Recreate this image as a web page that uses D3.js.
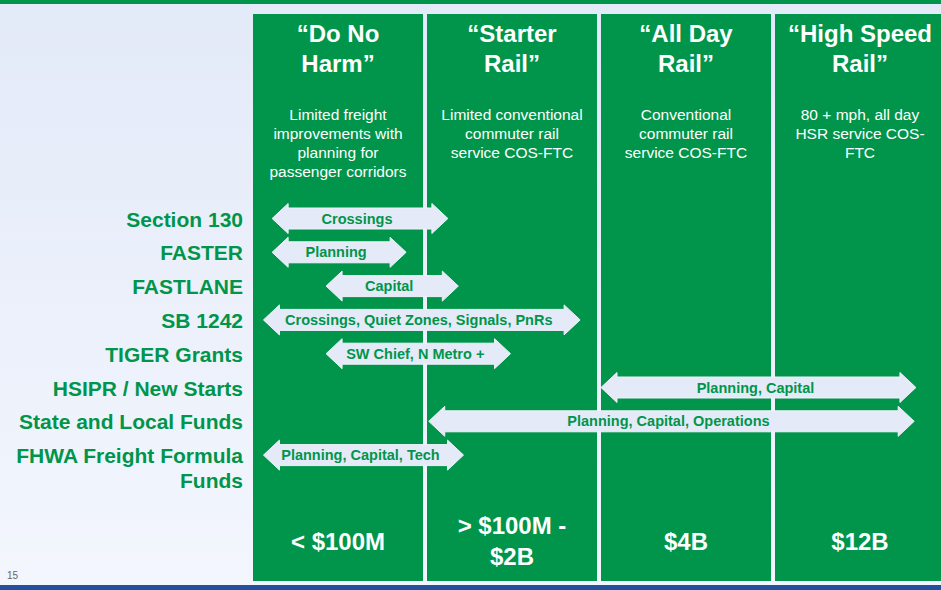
<!DOCTYPE html>
<html>
<head>
<meta charset="utf-8">
<script src="https://cdn.jsdelivr.net/npm/d3@7"></script>
<style>
  html, body { margin: 0; padding: 0; background: #fff; }
  svg { display: block; font-family: "Liberation Sans", Arial, Helvetica, sans-serif; }
</style>
</head>
<body>
<svg id="chart" width="941" height="590"></svg>
<script>
// ---------- DATA ----------
const phaseTitles = [
  ["\u201CDo No", "Harm\u201D"],
  ["\u201CStarter", "Rail\u201D"],
  ["\u201CAll Day", "Rail\u201D"],
  ["\u201CHigh Speed", "Rail\u201D"]
];
const phaseDescriptions = [
  ["Limited freight", "improvements with", "planning for", "passenger corridors"],
  ["Limited conventional", "commuter rail", "service COS-FTC"],
  ["Conventional", "commuter rail", "service COS-FTC"],
  ["80 + mph, all day", "HSR service COS-", "FTC"]
];
const phaseCosts = [
  ["< $100M"],
  ["> $100M -", "$2B"],
  ["$4B"],
  ["$12B"]
];
const programs = [
  ["Section 130"],
  ["FASTER"],
  ["FASTLANE"],
  ["SB 1242"],
  ["TIGER Grants"],
  ["HSIPR / New Starts"],
  ["State and Local Funds"],
  ["FHWA Freight Formula", "Funds"]
];
const arrowLabels = [
  "Crossings",
  "Planning",
  "Capital",
  "Crossings, Quiet Zones, Signals, PnRs",
  "SW Chief, N Metro +",
  "Planning, Capital",
  "Planning, Capital, Operations",
  "Planning, Capital, Tech"
];
// start / end of each funding arrow, in phase units (0 = start of "Do No Harm", 1 = start of "Starter Rail", ...)
const arrowStart = [0.11, 0.11, 0.42, 0.06, 0.42, 2.00, 1.01, 0.06];
const arrowEnd   = [1.12, 0.88, 1.18, 1.88, 1.48, 3.81, 3.80, 1.21];
const pageNumber = "15";

// ---------- LAYOUT ----------
const W = 941, H = 590;
const GREEN = "#00954a";
const ARROW_FILL = "#e4eaf7";
const svg = d3.select("#chart");

const defs = svg.append("defs");
const grad = defs.append("linearGradient").attr("id", "bg").attr("x1", 0).attr("y1", 0).attr("x2", 0).attr("y2", 1);
grad.append("stop").attr("offset", "0%").attr("stop-color", "#e3eaf8");
grad.append("stop").attr("offset", "100%").attr("stop-color", "#f3f6fd");

svg.append("rect").attr("width", W).attr("height", H).attr("fill", "url(#bg)");
svg.append("rect").attr("width", W).attr("height", 4).attr("fill", GREEN);
svg.append("rect").attr("y", 585).attr("width", W).attr("height", 5).attr("fill", "#24509e");

// x scale in phase units
const x = d3.scaleLinear().domain([0, 4]).range([253, 949]);
const colGap = 4;
const colTop = 14, colBottom = 581;

// row scale
const y = d3.scaleLinear().domain([0, programs.length - 1]).range([218.5, 218.5 + 33.8 * (programs.length - 1)]);

// columns
const cols = svg.append("g").selectAll("g").data(phaseTitles).join("g");
cols.append("rect")
  .attr("x", (d, i) => x(i))
  .attr("y", colTop)
  .attr("width", (d, i) => x(i + 1) - x(i) - colGap)
  .attr("height", colBottom - colTop)
  .attr("fill", GREEN);

const cx = i => (x(i) + x(i + 1) - colGap) / 2;

// titles
cols.each(function (lines, i) {
  const g = d3.select(this);
  g.selectAll("text.title").data(lines).join("text")
    .attr("class", "title")
    .attr("x", cx(i))
    .attr("y", (d, j) => 42 + j * 29.5)
    .attr("text-anchor", "middle")
    .attr("fill", "#fff")
    .attr("font-weight", "bold")
    .attr("font-size", 24)
    .text(d => d);
  g.selectAll("text.desc").data(phaseDescriptions[i]).join("text")
    .attr("class", "desc")
    .attr("x", cx(i))
    .attr("y", (d, j) => 120 + j * 19)
    .attr("text-anchor", "middle")
    .attr("fill", "#fff")
    .attr("font-size", 15.5)
    .text(d => d);
  const costs = phaseCosts[i];
  const lh = 31;
  const base0 = 549.5 - (costs.length - 1) * lh / 2;
  g.selectAll("text.cost").data(costs).join("text")
    .attr("class", "cost")
    .attr("x", cx(i))
    .attr("y", (d, j) => base0 + j * lh)
    .attr("text-anchor", "middle")
    .attr("fill", "#fff")
    .attr("font-weight", "bold")
    .attr("font-size", 24)
    .text(d => d);
});

// row labels
const labels = svg.append("g").selectAll("text").data(programs).join("text")
  .attr("x", 243)
  .attr("y", (d, i) => y(i) + 8)
  .attr("text-anchor", "end")
  .attr("fill", GREEN)
  .attr("font-weight", "bold")
  .attr("font-size", 21);
labels.selectAll("tspan").data(d => d).join("tspan")
  .attr("x", 243)
  .attr("dy", (d, j) => j === 0 ? 0 : 25)
  .text(d => d);

// arrows
function arrowPath(x0, x1, cy) {
  const h = 16, HH = 15, S = 10.5;
  return `M${x0},${cy} L${x0 + h},${cy - HH} L${x0 + h},${cy - S} L${x1 - h},${cy - S} L${x1 - h},${cy - HH} L${x1},${cy} ` +
         `L${x1 - h},${cy + HH} L${x1 - h},${cy + S} L${x0 + h},${cy + S} L${x0 + h},${cy + HH} Z`;
}
const arrows = svg.append("g").selectAll("g").data(arrowLabels).join("g");
arrows.append("path")
  .attr("d", (d, i) => arrowPath(x(arrowStart[i]), x(arrowEnd[i]), y(i)))
  .attr("fill", ARROW_FILL)
  .attr("stroke", "#eef2fb")
  .attr("stroke-width", 1);
arrows.append("text")
  .attr("x", (d, i) => (x(arrowStart[i]) + x(arrowEnd[i])) / 2 - 3)
  .attr("y", (d, i) => y(i))
  .attr("dy", "0.35em")
  .attr("text-anchor", "middle")
  .attr("fill", GREEN)
  .attr("font-weight", "bold")
  .attr("font-size", 14.5)
  .text(d => d);

// page number
svg.append("text")
  .attr("x", 7).attr("y", 579)
  .attr("fill", "#666")
  .attr("font-size", 10)
  .text(pageNumber);
</script>
</body>
</html>
